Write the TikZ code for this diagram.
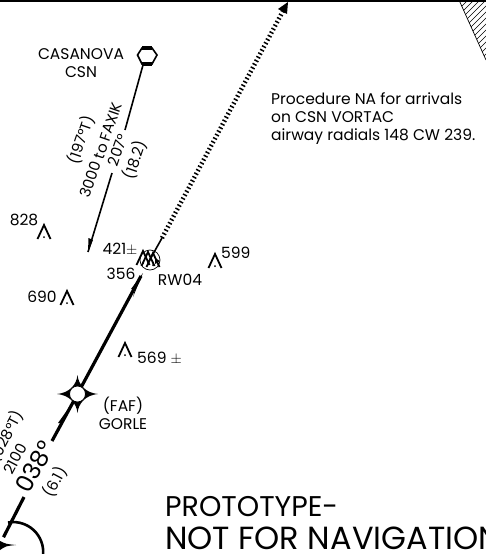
\documentclass[tikz,border=0pt]{standalone}
\usepackage{fontspec}
\usepackage{tikz}
\setmainfont{Poppins}
\tikzset{
  chartlabel/.style={inner sep=0, font=\fontsize{15.5}{18}\selectfont},
  legtext/.style={inner sep=0, rotate=62, font=\fontsize{15}{16}\selectfont},
  coursetext/.style={inner sep=0, rotate=71, font=\fontsize{15}{16}\selectfont},
  obstacle/.pic={
    \draw[line width=1.8] (-6.5,7) -- (0,-7) -- (6.5,7);
    \fill (0,5) circle (1);
  },
}
\begin{document}
\begin{tikzpicture}[x=1pt, y=-1pt]
\useasboundingbox (0,0) rectangle (486,554);
\clip (0,0) rectangle (486,554);
\draw[line width=2] (0,0.5) -- (486,0.5);

% hatched corner
\begin{scope}
\clip (459,0) -- (486,60) -- (486,0) -- cycle;
\foreach \x in {450,456,...,560}
  \draw[line width=0.5] (\x,0) -- (\x-60,60);
\end{scope}
\draw[line width=0.7] (459,0) -- (486,60);

\coordinate (missedstart) at (162,238);
\coordinate (missedend) at (283,11);
\coordinate (missedtip) at (288,2);
\coordinate (rwyend) at (148,263);
\coordinate (fafpt) at (77.5,394);
\coordinate (legbreak) at (52,441);
\coordinate (legstart) at (24,497);
\coordinate (holdin) at (-2,548);
\coordinate (courseout) at (143,65);
\coordinate (coursebreak) at (125,130);
\coordinate (coursestart) at (112,173);
\coordinate (coursetip) at (88,252);

% final approach
\draw[line width=3.2] (fafpt) -- (141,276);
\fill (143,273) -- (131,289) -- (135,289) -- (133,297) -- cycle;
\draw[line width=3.2] (fafpt) -- (legbreak);
\fill (68,409) -- (58,423) -- (61.5,423) -- (59,431) -- cycle;
\draw[line width=1.6] (rwyend) -- (missedstart);
\draw[line width=4.5, dash pattern=on 1.5 off 2.5] (missedstart) -- (missedend);
\fill (missedtip) -- (278,9) -- (287,14) -- cycle;

% outbound leg and hold
\draw[line width=3.2] (legstart) -- (holdin);
\draw[line width=2.6] (8,522.5) arc (-100:10:30);
\fill[white] (-1,545) circle (9);
\fill (0,541) .. controls (6,544) .. (16,545) .. controls (6,546) .. (0,550) -- cycle;

% FAF
\fill[black] (57,394) .. controls (69,393) and (76.5,385) .. (77.5,375)
   .. controls (78.5,385) and (86,393) .. (98,394)
   .. controls (86,395) and (78.5,403) .. (77.5,413)
   .. controls (76.5,403) and (69,395) .. (57,394) -- cycle;
\draw[line width=0.8, fill=white] (fafpt) circle (8);

% VORTAC
\draw[line width=1.6, fill=white] (137.5,55) -- (142,48) -- (152,48) -- (157,55) -- (152,64) -- (142,64) -- cycle;
\draw[line width=3.5] (142,48) -- (152,48);
\draw[line width=3.5] (142,64) -- (152,64);
\draw[line width=1.6] (courseout) -- (coursebreak);
\draw[line width=1.6] (coursestart) -- (coursetip);
\fill (coursetip) -- (88.5,238) -- (93,240) -- cycle;

% obstacles
\pic at (44,232) {obstacle};
\pic at (67,298) {obstacle};
\pic at (125,350) {obstacle};
\pic at (215,261) {obstacle};
\pic at (143,258) {obstacle};
\pic at (148,259) {obstacle};
\pic at (153,260) {obstacle};
\draw[line width=0.7] (150,260) circle (10);
\fill (160,261) -- (155,258) -- (155,264) -- cycle;

% labels
\node[chartlabel, align=center] (csnlabel) at (81,63) {CASANOVA\\CSN};
\node[chartlabel, align=left, anchor=north west] (notelabel) at (271,92)
  {Procedure NA for arrivals\\on CSN VORTAC\\airway radials 148 CW 239.};
\node[chartlabel] (eightlabel) at (24,220) {828};
\node[chartlabel] (sixninelabel) at (42,297) {690};
\node[chartlabel, anchor=west] (fivelabel) at (137,358) {569 $\pm$};
\node[chartlabel, anchor=west] (fiveninelabel) at (221,253) {599};
\node[chartlabel] (fourlabel) at (120,249) {421$\pm$};
\node[chartlabel] (threelabel) at (121,274) {356};
\node[chartlabel] (rwylabel) at (180,280) {RW04};
\node[chartlabel, align=center] (faflabel) at (123,413) {(FAF)\\GORLE};
\node[coursetext] (coursea) at (81,140) {(197°T)};
\node[coursetext] (courseb) at (101,150) {3000 to FAXIK};
\node[coursetext] (coursec) at (118,150) {207°};
\node[coursetext] (coursed) at (135,160) {(18.2)};
\node[legtext] (lega) at (6,436) {(028°T)};
\node[legtext] (legb) at (15,459) {2100};
\node[legtext, font=\fontsize{24}{26}\selectfont] (legc) at (35,467) {038°};
\node[legtext] (legd) at (55,482) {(6.1)};
\node[inner sep=0, anchor=west, font=\fontsize{28.5}{30}\selectfont] (protolabel) at (165,507) {PROTOTYPE-};
\node[inner sep=0, anchor=west, font=\fontsize{32}{30}\selectfont] (navlabel) at (165,538) {NOT FOR NAVIGATION};
\end{tikzpicture}
\end{document}
